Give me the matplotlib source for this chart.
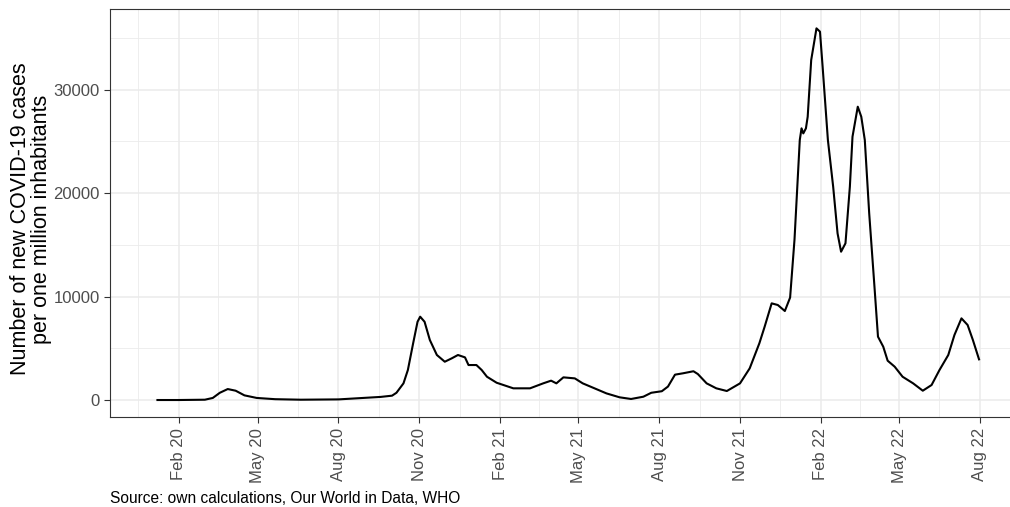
import matplotlib
matplotlib.use("Agg")
import matplotlib.pyplot as plt
import matplotlib.dates as mdates
import numpy as np

# 7-day average of new cases per one million inhabitants
dates = [
    "2020-01-08", "2020-02-01", "2020-03-02", "2020-03-11", "2020-03-19", "2020-03-28",
    "2020-04-06", "2020-04-16", "2020-04-30", "2020-05-21", "2020-06-19", "2020-08-01",
    "2020-09-18", "2020-10-01", "2020-10-06", "2020-10-14", "2020-10-19", "2020-10-25",
    "2020-10-30", "2020-11-02", "2020-11-07", "2020-11-13", "2020-11-21", "2020-11-30",
    "2020-12-08", "2020-12-15", "2020-12-23", "2020-12-27", "2021-01-05", "2021-01-11",
    "2021-01-17", "2021-01-28", "2021-02-16", "2021-03-07", "2021-03-22", "2021-03-31",
    "2021-04-06", "2021-04-14", "2021-04-27", "2021-05-06", "2021-05-18", "2021-06-02",
    "2021-06-17", "2021-06-30", "2021-07-14", "2021-07-23", "2021-08-04", "2021-08-11",
    "2021-08-19", "2021-08-28", "2021-09-09", "2021-09-14", "2021-09-24", "2021-10-05",
    "2021-10-17", "2021-11-01", "2021-11-12", "2021-11-23", "2021-11-29", "2021-12-07",
    "2021-12-14", "2021-12-22", "2021-12-28", "2022-01-02", "2022-01-08", "2022-01-10",
    "2022-01-12", "2022-01-15", "2022-01-17", "2022-01-21", "2022-01-27", "2022-01-31",
    "2022-02-03", "2022-02-09", "2022-02-15", "2022-02-20", "2022-02-24", "2022-03-01",
    "2022-03-06", "2022-03-09", "2022-03-15", "2022-03-19", "2022-03-23", "2022-03-28",
    "2022-04-03", "2022-04-07", "2022-04-13", "2022-04-18", "2022-04-26", "2022-05-05",
    "2022-05-17", "2022-05-28", "2022-06-07", "2022-06-16", "2022-06-26", "2022-07-03",
    "2022-07-11", "2022-07-18", "2022-07-24", "2022-07-31",
]
cases = [
    0, 0, 30, 200, 700, 1060,
    900, 450, 200, 80, 30, 60,
    300, 420, 700, 1610, 2900, 5480,
    7560, 8050, 7560, 5800, 4350, 3700,
    4030, 4350, 4120, 3380, 3380, 2900,
    2250, 1670, 1130, 1130, 1610, 1870,
    1610, 2190, 2090, 1610, 1180, 640,
    260, 100, 320, 700, 850, 1300,
    2450, 2580, 2780, 2510, 1610, 1130,
    870, 1610, 3060, 5480, 7080, 9340,
    9180, 8600, 9900, 15500, 25120, 26250,
    25760, 26250, 27370, 32850, 35910, 35590,
    32200, 25120, 20610, 16100, 14330, 15140,
    20610, 25440, 28340, 27370, 25120, 18040,
    10950, 6120, 5150, 3800, 3220, 2250,
    1610, 900, 1450, 2900, 4350, 6280,
    7890, 7250, 5800, 3930,
]

x_breaks = ["2020-02-01", "2020-05-01", "2020-08-01", "2020-11-01", "2021-02-01",
            "2021-05-01", "2021-08-01", "2021-11-01", "2022-02-01", "2022-05-01",
            "2022-08-01"]
x_labels = ["Feb 20", "May 20", "Aug 20", "Nov 20", "Feb 21", "May 21", "Aug 21",
            "Nov 21", "Feb 22", "May 22", "Aug 22"]
y_breaks = [0, 10000, 20000, 30000]

plt.rcParams["font.family"] = ["Liberation Sans", "DejaVu Sans"]

x = mdates.datestr2num(dates)
xb = mdates.datestr2num(x_breaks)
# minor breaks halfway between majors, one extra step on each side
ext = np.concatenate([[xb[0] - 92], xb, [xb[-1] + 92]])
x_minor = (ext[:-1] + ext[1:]) / 2

fig = plt.figure(figsize=(10.1, 5.07), dpi=100)
ax = fig.add_axes([0.1089, 0.1769, 0.9109, 0.8053])

grid_col = "#EBEBEB"
for v in xb:
    ax.axvline(v, color=grid_col, lw=1.1, zorder=0)
for v in x_minor:
    ax.axvline(v, color=grid_col, lw=0.6, zorder=0)
for v in y_breaks:
    ax.axhline(v, color=grid_col, lw=1.1, zorder=0)
for v in [5000, 15000, 25000, 35000]:
    ax.axhline(v, color=grid_col, lw=0.6, zorder=0)

ax.plot(x, cases, color="black", lw=1.5, zorder=3)

ax.set_xlim(mdates.datestr2num("2019-11-15"), mdates.datestr2num("2022-09-27"))
ax.set_ylim(-1671, 37778)

ax.set_xticks(xb)
ax.set_xticklabels(x_labels, rotation=90)
ax.set_yticks(y_breaks)
ax.set_yticklabels([str(v) for v in y_breaks])
ax.tick_params(axis="both", colors="#333333", labelcolor="#4D4D4D", labelsize=12,
               length=4, width=0.8)

for s in ax.spines.values():
    s.set_color("#333333")
    s.set_linewidth(0.8)

fig.text(31.5 / 1010, 1 - 219 / 507,
         "Number of new COVID-19 cases\nper one million inhabitants",
         fontsize=15.5, rotation=90, ha="center", va="center",
         multialignment="center", linespacing=1.0)

fig.text(0.1089, 0.008, "Source: own calculations, Our World in Data, WHO",
         fontsize=11.2, ha="left", va="baseline")

fig.savefig("out.png", dpi=100)
